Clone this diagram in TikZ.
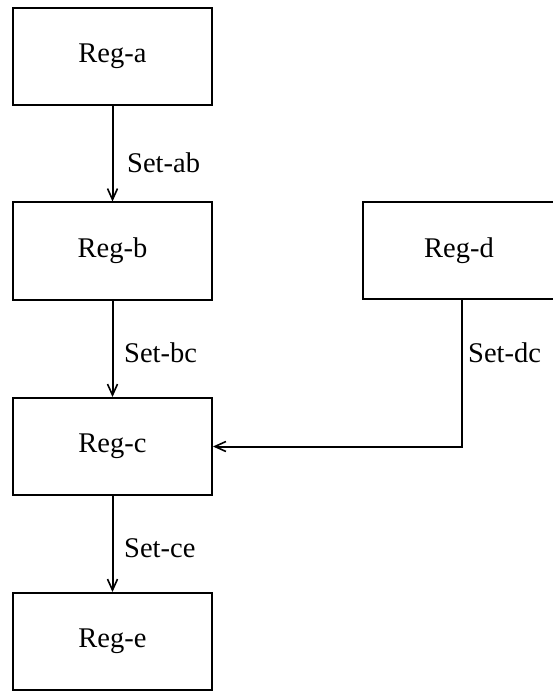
\documentclass[tikz,border=0pt]{standalone}
\usepackage{fontspec}
\setmainfont{Liberation Serif}
\usetikzlibrary{arrows.meta}
\begin{document}
\begin{tikzpicture}[x=1pt,y=1pt,
  reg/.style={draw, line width=2pt, minimum width=199pt, minimum height=97pt,
    inner sep=0pt, font=\fontsize{28.5}{32}\selectfont},
  lbl/.style={anchor=west, inner sep=0pt, font=\fontsize{28.5}{32}\selectfont},
  flow/.style={line width=2pt,
    -{Straight Barb[length=11pt,width=10pt,line width=1.6pt]}}]
\useasboundingbox (0,0) rectangle (552,-692);
% registers
\node[reg] (a) at (112.5,-56.5) {Reg-a};
\node[reg] (b) at (112.5,-251) {Reg-b};
\node[reg] (c) at (112.5,-446.5) {Reg-c};
\node[reg] (e) at (112.5,-641.5) {Reg-e};
\node[reg, minimum width=192pt] (d) at (459,-250.5) {Reg-d};
% transfers
\draw[flow] (a) -- (b);
\draw[flow] (b) -- (c);
\draw[flow] (c) -- (e);
\draw[flow] ([xshift=3pt]d.south) |- (c.east);
% transfer labels
\node[lbl] (lab) at (127,-163) {Set-ab};
\node[lbl] (lbc) at (124,-353) {Set-bc};
\node[lbl] (lce) at (124,-548) {Set-ce};
\node[lbl] (ldc) at (468,-353) {Set-dc};
\end{tikzpicture}
\end{document}
